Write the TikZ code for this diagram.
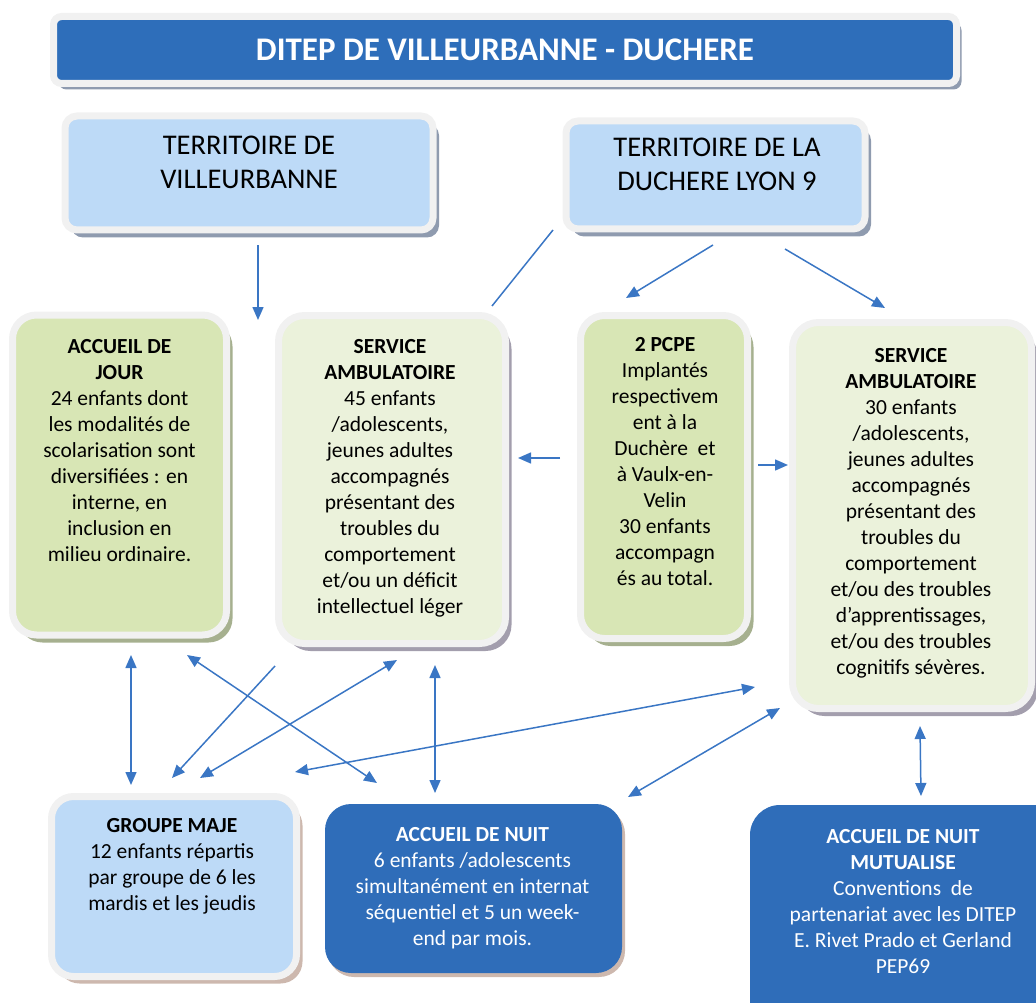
\documentclass[tikz,border=0pt]{standalone}
\usepackage{fontspec}
\setmainfont{Carlito}
\usetikzlibrary{arrows.meta,positioning,shadows}
\definecolor{titleblue}{HTML}{2E6EBA}
\definecolor{nightblue}{HTML}{2F6DB9}
\definecolor{paleblue}{HTML}{BDDAF7}
\definecolor{greenA}{HTML}{D8E6B5}
\definecolor{greenB}{HTML}{EBF2DB}
\definecolor{framegrey}{HTML}{F1F1F1}
\definecolor{shadowblue}{HTML}{8F9BAF}
\definecolor{shadowgreen}{HTML}{A6B08F}
\definecolor{shadowmauve}{HTML}{A39EAD}
\definecolor{shadowbrown}{HTML}{CDB8AE}
\definecolor{arrowblue}{HTML}{3A76C4}
\newcommand*{\bodysize}{\fontsize{21.5}{26}\selectfont}
\newcommand*{\terrsize}{\fontsize{28.5}{34}\selectfont}

\begin{document}
\begin{tikzpicture}[x=1pt,y=-1pt]
  \useasboundingbox (0,0) rectangle (1036,1003);
  \clip (0,0) rectangle (1036,1003);

  \tikzstyle{box}=[rectangle, draw=framegrey, line width=7pt, inner sep=0pt]
  \tikzstyle{terrbox}=[box, rounded corners=12pt, fill=paleblue,
    drop shadow={shadow xshift=6pt, shadow yshift=-7.5pt, fill=shadowblue, opacity=1}]
  \tikzstyle{greenbox}=[box, rounded corners=24pt, fill=greenA,
    drop shadow={shadow xshift=6pt, shadow yshift=-7.5pt, fill=shadowgreen, opacity=1}]
  \tikzstyle{servbox}=[box, rounded corners=26pt, fill=greenB,
    drop shadow={shadow xshift=6pt, shadow yshift=-7.5pt, fill=shadowmauve, opacity=1}]
  \tikzstyle{majebox}=[box, rounded corners=22pt, fill=paleblue,
    drop shadow={shadow xshift=6pt, shadow yshift=-7pt, fill=shadowbrown, opacity=1}]
  \tikzstyle{nightbox}=[rectangle, rounded corners=26pt, fill=nightblue, inner sep=0pt,
    drop shadow={shadow xshift=3pt, shadow yshift=-4pt, fill=shadowbrown, opacity=1}]
  \tikzstyle{txt}=[align=center, inner sep=0pt, font=\bodysize]
  \tikzstyle{link}=[draw=arrowblue, line width=1.5pt, -{Triangle[length=13pt,width=11pt]}]
  \tikzstyle{dlink}=[link, {Triangle[length=13pt,width=11pt]}-{Triangle[length=13pt,width=11pt]}]

  % title
  \node[box, rounded corners=8pt, fill=titleblue, minimum width=903pt, minimum height=67pt,
    drop shadow={shadow xshift=5pt, shadow yshift=-6pt, fill=shadowblue, opacity=1},
    font=\fontsize{33}{36}\selectfont\bfseries, text=white] (title) at (505,50)
    {DITEP DE VILLEURBANNE - DUCHERE};

  % territories
  \node[terrbox, minimum width=368pt, minimum height=114pt] (vill) at (249,173) {};
  \node[terrbox, minimum width=299pt, minimum height=108pt] (duch) at (715.5,175) {};
  \node[txt, font=\terrsize, below=23.5pt of vill.north] (villtxt)
    {TERRITOIRE DE\\VILLEURBANNE};
  \node[txt, font=\terrsize, below=20.5pt of duch.north, xshift=1.5pt] (duchtxt)
    {TERRITOIRE DE LA\\DUCHERE LYON 9};

  % services
  \node[greenbox, minimum width=214pt, minimum height=320pt] (aj) at (119.5,475) {};
  \node[servbox, minimum width=227pt, minimum height=328pt] (sa1) at (392,479.5) {};
  \node[greenbox, minimum width=167pt, minimum height=323pt] (pcpe) at (664,477) {};
  \node[servbox, minimum width=239pt, minimum height=386pt] (sa2) at (912,515.5) {};

  \node[txt, below=28pt of aj.north] (ajtxt)
    {\textbf{ACCUEIL DE}\\\textbf{JOUR}\\24 enfants dont\\les modalités de\\scolarisation sont\\diversifiées : en\\interne, en\\inclusion en\\milieu ordinaire.};
  \node[txt, below=27.5pt of sa1.north, xshift=-2pt] (sa1txt)
    {\textbf{SERVICE}\\\textbf{AMBULATOIRE}\\45 enfants\\/adolescents,\\jeunes adultes\\accompagnés\\présentant des\\troubles du\\comportement\\et/ou un déficit\\intellectuel léger};
  \node[txt, below=25.5pt of pcpe.north, xshift=1pt] (pcpetxt)
    {\textbf{2 PCPE}\\Implantés\\respectivem\\ent à la\\Duchère~ et\\à Vaulx-en-\\Velin\\30 enfants\\accompagn\\és au total.};
  \node[txt, below=29.5pt of sa2.north, xshift=-1pt] (sa2txt)
    {\textbf{SERVICE}\\\textbf{AMBULATOIRE}\\30 enfants\\/adolescents,\\jeunes adultes\\accompagnés\\présentant des\\troubles du\\comportement\\et/ou des troubles\\d’apprentissages,\\et/ou des troubles\\cognitifs sévères.};

  % bottom row
  \node[majebox, minimum width=245pt, minimum height=180pt] (maje) at (174,886.5) {};
  \node[nightbox, minimum width=297pt, minimum height=169pt] (nuit) at (473.5,888.5) {};
  \node[nightbox, rounded corners=30pt, minimum width=320pt, minimum height=235pt] (mutu) at (910,922.5) {};

  \node[txt, below=25.5pt of maje.north, xshift=-2pt] (majetxt)
    {\textbf{GROUPE MAJE}\\12 enfants répartis\\par groupe de 6 les\\mardis et les jeudis};
  \node[txt, text=white, below=23pt of nuit.north, xshift=-1pt] (nuittxt)
    {\textbf{ACCUEIL DE NUIT}\\6 enfants /adolescents\\simultanément en internat\\séquentiel et 5 un week-\\end par mois.};
  \node[txt, text=white, below=24pt of mutu.north, xshift=-7pt] (mututxt)
    {\textbf{ACCUEIL DE NUIT}\\\textbf{MUTUALISE}\\Conventions~ de\\partenariat avec les DITEP\\E. Rivet Prado et Gerland\\PEP69};

  % connector ends
  \foreach \n/\x/\y in {a1/258/245, a2/258/320, b1/713/245, b2/626/298,
      c1/785/249, c2/885/308, d1/560/458, d2/518/458, e1/758/465, e2/788/465,
      f1/275/666, f2/172/778, g1/553/230, g2/492/306,
      h1/131/655, h2/131/785, i1/187/655, i2/377/783, j1/397/660, j2/200/778,
      k1/435/665, k2/435/793, l1/755/687, l2/295/772, m1/780/708, m2/628/797,
      n1/920/726, n2/921/796}
    \coordinate (\n) at (\x,\y);

  \foreach \p in {a, b, c, d, e, f}
    \draw[link] (\p1) -- (\p2);
  \draw[draw=arrowblue, line width=1.5pt] (g1) -- (g2);
  \foreach \p in {h, i, j, k, l, m, n}
    \draw[dlink] (\p1) -- (\p2);
\end{tikzpicture}
\end{document}
